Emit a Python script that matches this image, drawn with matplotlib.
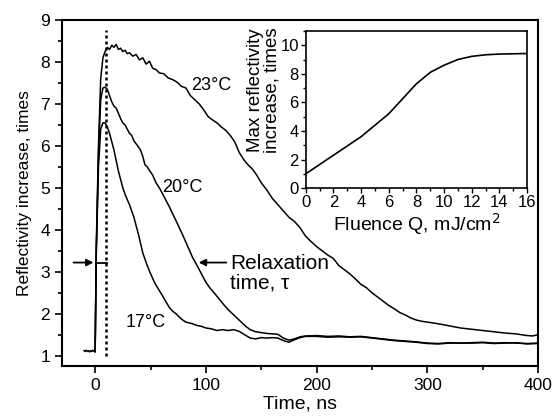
import numpy as np
import matplotlib.pyplot as plt
from matplotlib.ticker import MultipleLocator

plt.rcParams['font.family'] = ['Liberation Sans', 'DejaVu Sans']

# baseline before the pulse (shared by all curves)
t_base = [-10, -9, -8, -7, -6, -5, -4, -3, -2, -1, 0]
r_base = [1.12, 1.1, 1.13, 1.1, 1.12, 1.09, 1.12, 1.1, 1.13, 1.1, 1.1]

# 23 C
t23 = [0, 1, 3, 5, 7, 9, 11, 13, 15, 17, 19, 21, 23, 25, 27, 29, 31, 34, 37, 40, 43, 46, 49,
       52, 55, 58, 62, 66, 70, 74, 78, 82, 86, 90, 94, 98, 102, 106, 110, 114, 118, 122, 126,
       130, 134, 138, 142, 146, 150, 155, 160, 165, 170, 175, 180, 185, 190, 195, 200, 205,
       210, 215, 220, 225, 230, 235, 240, 245, 250, 255, 260, 265, 270, 275, 280, 285, 290,
       295, 300, 310, 320, 330, 340, 350, 360, 370, 380, 390, 395, 400]
r23 = [1.1, 3.6, 6.0, 7.6, 8.1, 8.25, 8.35, 8.3, 8.4, 8.35, 8.42, 8.3, 8.33, 8.25, 8.28, 8.2,
       8.22, 8.14, 8.18, 8.05, 8.1, 7.95, 8.02, 7.85, 7.82, 7.74, 7.72, 7.62, 7.58, 7.52, 7.42,
       7.38, 7.2, 7.1, 7.0, 6.86, 6.7, 6.62, 6.55, 6.45, 6.37, 6.25, 6.1, 5.85, 5.68, 5.55,
       5.45, 5.3, 5.12, 4.95, 4.75, 4.6, 4.45, 4.3, 4.2, 4.05, 3.85, 3.72, 3.6, 3.5, 3.4, 3.32,
       3.15, 3.05, 2.95, 2.83, 2.7, 2.62, 2.5, 2.4, 2.3, 2.2, 2.12, 2.03, 1.97, 1.9, 1.85,
       1.82, 1.8, 1.76, 1.71, 1.66, 1.63, 1.6, 1.57, 1.54, 1.52, 1.48, 1.47, 1.5]

# 20 C
t20 = [0, 1, 3, 5, 7, 9, 11, 13, 15, 17, 19, 21, 23, 25, 27, 29, 31, 33, 35, 37, 39, 41, 43,
       45, 47, 49, 52, 55, 58, 61, 64, 67, 70, 73, 76, 79, 82, 85, 88, 91, 94, 97, 100, 104,
       108, 112, 116, 120, 124, 128, 132, 136, 140, 145, 150, 155, 160, 165, 170, 175, 180,
       185, 190, 200, 210, 220, 230, 240, 250, 260, 270, 280, 290, 300, 310, 320, 330, 340,
       350, 360, 370, 380, 390, 400]
r20 = [1.1, 3.5, 5.8, 7.1, 7.38, 7.4, 7.35, 7.2, 7.05, 6.95, 6.9, 6.78, 6.65, 6.55, 6.5, 6.4,
       6.3, 6.25, 6.12, 6.05, 5.98, 5.9, 5.75, 5.55, 5.5, 5.42, 5.3, 5.12, 5.0, 4.85, 4.7,
       4.55, 4.38, 4.22, 4.05, 3.88, 3.7, 3.52, 3.34, 3.2, 3.05, 2.9, 2.75, 2.6, 2.48, 2.35,
       2.22, 2.1, 2.0, 1.9, 1.8, 1.7, 1.62, 1.57, 1.55, 1.53, 1.52, 1.51, 1.42, 1.37, 1.4,
       1.45, 1.47, 1.48, 1.46, 1.47, 1.45, 1.46, 1.43, 1.4, 1.37, 1.35, 1.33, 1.3, 1.29, 1.31,
       1.3, 1.31, 1.32, 1.3, 1.31, 1.3, 1.29, 1.3]

# 17 C
t17 = [0, 1, 3, 5, 7, 9, 11, 13, 15, 17, 19, 21, 23, 25, 27, 29, 31, 33, 35, 37, 39, 41, 43,
       45, 47, 49, 51, 53, 55, 58, 61, 64, 67, 70, 73, 76, 79, 82, 85, 88, 92, 96, 100, 105,
       110, 115, 120, 125, 130, 135, 140, 145, 150, 155, 160, 165, 170, 175, 180, 185, 190,
       200, 210, 220, 230, 240, 250, 260, 270, 280, 290, 300, 310, 320, 330, 340, 350, 360,
       370, 380, 390, 400]
r17 = [1.1, 3.4, 5.5, 6.4, 6.55, 6.55, 6.45, 6.3, 6.1, 5.9, 5.65, 5.4, 5.2, 5.0, 4.85, 4.72,
       4.6, 4.45, 4.3, 4.1, 3.9, 3.68, 3.45, 3.3, 3.15, 3.02, 2.9, 2.78, 2.68, 2.55, 2.42,
       2.28, 2.15, 2.06, 2.0, 1.92, 1.85, 1.8, 1.78, 1.76, 1.72, 1.7, 1.66, 1.64, 1.6, 1.62,
       1.6, 1.62, 1.58, 1.5, 1.42, 1.4, 1.43, 1.42, 1.43, 1.42, 1.36, 1.32, 1.38, 1.43, 1.46,
       1.46, 1.44, 1.45, 1.44, 1.45, 1.42, 1.39, 1.36, 1.34, 1.32, 1.29, 1.28, 1.3, 1.3, 1.3,
       1.31, 1.29, 1.3, 1.31, 1.28, 1.29]

# inset: max reflectivity vs fluence
fluence = [0, 1, 2, 3, 4, 5, 6, 7, 8, 9, 10, 11, 12, 13, 14, 15, 16]
max_refl = [1.0, 1.65, 2.3, 2.95, 3.6, 4.4, 5.2, 6.25, 7.3, 8.1, 8.6, 9.0, 9.22, 9.33, 9.38,
            9.4, 9.42]

fig = plt.figure(figsize=(5.53, 4.18), dpi=100)
ax = fig.add_axes([0.112, 0.124, 0.861, 0.828])

lw = 1.1
ax.plot(t_base, r_base, color='black', lw=lw)
for t, r in [(t23, r23), (t20, r20), (t17, r17)]:
    ax.plot(t, r, color='black', lw=lw)

# pulse position
ax.axvline(10, ymin=0.03, ymax=0.97, color='black', lw=1.8, linestyle=(0, (1.2, 1.2)))

# arrows marking relaxation time
ax.annotate('', xy=(1, 3.22), xytext=(-22, 3.22),
            arrowprops=dict(arrowstyle='-|>', color='black', lw=1.3, mutation_scale=10))
ax.plot([1, 11], [3.22, 3.22], color='black', lw=1.3)
ax.annotate('', xy=(91, 3.22), xytext=(121, 3.22),
            arrowprops=dict(arrowstyle='-|>', color='black', lw=1.3, mutation_scale=10))

ax.text(122, 2.96, 'Relaxation\ntime, \u03c4', fontsize=15, va='center', ha='left',
        linespacing=1.05)
ax.text(105, 7.45, '23\u00b0C', fontsize=13, ha='center', va='center')
ax.text(79, 5.0, '20\u00b0C', fontsize=13, ha='center', va='center')
ax.text(46, 1.8, '17\u00b0C', fontsize=13, ha='center', va='center')

ax.set_xlim(-30, 400)
ax.set_ylim(0.75, 9)
ax.xaxis.set_major_locator(MultipleLocator(100))
ax.xaxis.set_minor_locator(MultipleLocator(50))
ax.yaxis.set_major_locator(MultipleLocator(1))
ax.yaxis.set_minor_locator(MultipleLocator(0.5))
ax.tick_params(which='both', direction='out', width=1.2, labelsize=12.5)
ax.tick_params(which='major', length=5)
ax.tick_params(which='minor', length=3)
for s in ax.spines.values():
    s.set_linewidth(1.5)
ax.set_xlabel('Time, ns', fontsize=14, labelpad=2)
ax.set_ylabel('Reflectivity increase, times', fontsize=12.5, labelpad=6)

# inset
ins = fig.add_axes([0.553, 0.55, 0.400, 0.376])
ins.plot(fluence, max_refl, color='black', lw=1.2)
ins.set_xlim(0, 16)
ins.set_ylim(0, 11)
ins.xaxis.set_major_locator(MultipleLocator(2))
ins.xaxis.set_minor_locator(MultipleLocator(1))
ins.yaxis.set_major_locator(MultipleLocator(2))
ins.yaxis.set_minor_locator(MultipleLocator(1))
ins.tick_params(which='both', direction='out', width=1.0, labelsize=12, pad=1.5)
ins.tick_params(which='major', length=3.5)
ins.tick_params(which='minor', length=2)
for s in ins.spines.values():
    s.set_linewidth(1.2)
ins.set_xlabel('Fluence Q, mJ/cm$^2$', fontsize=14, labelpad=1)
fig.text(264 / 553, 1 - 90 / 418, 'Max reflectivity\nincrease, times', rotation=90,
         fontsize=13.5, ha='center', va='center', linespacing=0.95)

fig.savefig('out.png', dpi=100)
